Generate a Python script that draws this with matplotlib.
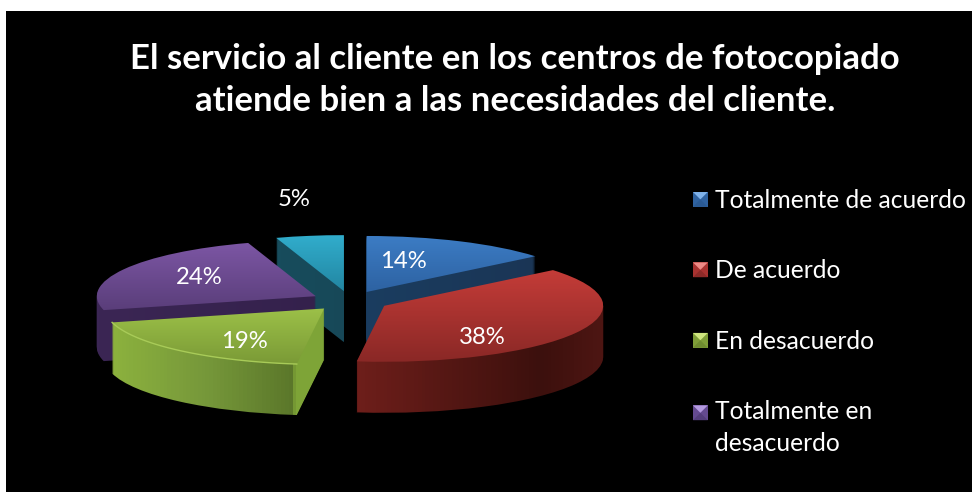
import numpy as np
import matplotlib
matplotlib.use('Agg')
import matplotlib.pyplot as plt
from matplotlib.colors import LinearSegmentedColormap
from matplotlib.legend_handler import HandlerBase
from matplotlib.patches import Patch, Polygon, Rectangle

categories = ['Totalmente de acuerdo', 'De acuerdo', 'En desacuerdo', 'Totalmente en\ndesacuerdo']
values = [14, 38, 19, 24, 5]
title = 'El servicio al cliente en los centros de fotocopiado\natiende bien a las necesidades del cliente.'

W, H = 972, 492
CX, CY = 350, 301      # pie centre in pixels
RX, RY = 219, 56       # pixels per data unit
DEPTH = 51
EXPLODE = 39 / 219

# top face colours, top to bottom
top_colors = [('#3c7cc4', '#2d62a2'), ('#c43c38', '#8a2826'), ('#9cc048', '#7a9a36'),
              ('#7c56a4', '#5a3e7a'), ('#31adcc', '#2286a2')]
# side colours as (x pixel, colour)
side_colors = [
    [(360, '#1a3d60'), (540, '#1a3555')],
    [(350, '#701f1b'), (540, '#3c100d'), (604, '#4e1613')],
    [(108, '#8db23e'), (205, '#76983a'), (292, '#5b772a'), (294, '#7ea437'), (328, '#7ea437')],
    [(98, '#3b2654'), (325, '#34214c')],
    [(280, '#174c5c'), (350, '#174858')],
]
edge_colors = [None, None, '#a8cb58', None, None]
# order the wedges are stacked in, back to front
draw_order = [4, 0, 3, 2, 1]
label_pos = [(403, 262), (482, 337), (244, 341), (199, 277), (294, 199)]
legend_colors = [('#2f62a0', '#7fb2ea', '#2a5a94'), ('#a83230', '#ee8a86', '#8c2a28'),
                 ('#7f9e38', '#cfe67e', '#6f8c30'), ('#644a90', '#b49ae0', '#543e7c')]
# the two-line entry keeps its key beside the first line
legend_lift = [0, 0, 0, 11.3]

plt.rcParams['font.family'] = ['Lato', 'DejaVu Sans']
plt.rcParams['image.composite_image'] = False

fig = plt.figure(figsize=(W / 100, H / 100), dpi=100, facecolor='white')
fig.add_artist(Rectangle((5.5 / W, 0), 1 - 5.5 / W, 1 - 11 / H, transform=fig.transFigure,
                         facecolor='black', edgecolor='none', zorder=-1))
ax = fig.add_axes([0, 0, 1, 1])
ax.patch.set_alpha(0)

xlim = (-CX / RX, (W - CX) / RX)
ylim = ((CY - H) / RY, CY / RY)
explode = [EXPLODE] * len(values)


def make_cmap(stops):
    pts = [(p / W, c) for p, c in stops]
    pts = [(0, stops[0][1])] + pts + [(1, stops[-1][1])]
    return LinearSegmentedColormap.from_list('grad', pts)


def pie_layer(offset):
    wedges, _ = ax.pie(values, explode=explode, startangle=90, counterclock=False,
                       radius=1, center=(0, -offset / RY))
    return wedges


def paint(wedge, img, cmap, zorder):
    wedge.set_visible(False)
    im = ax.imshow(img, cmap=cmap, extent=(*xlim, *ylim), aspect='auto', origin='upper',
                   interpolation='nearest', vmin=0, vmax=1, zorder=zorder)
    im.set_clip_path(wedge)


h_grad = np.linspace(0, 1, W).reshape(1, -1)
side_cmaps = [make_cmap(s) for s in side_colors]

# side walls, drawn bottom up so each wedge looks extruded
for offset in range(DEPTH, 0, -1):
    wedges = pie_layer(offset)
    for order, i in enumerate(draw_order):
        paint(wedges[i], h_grad, side_cmaps[i], order * 10 + 1 + (DEPTH - offset) * 0.01)

# top faces with a soft vertical gradient
wedges = pie_layer(0)
for order, i in enumerate(draw_order):
    w = wedges[i]
    th1, th2 = np.radians(w.theta1), np.radians(w.theta2)
    ang = np.linspace(th1, th2, 60)
    cy_px = CY - w.center[1] * RY
    edge_y = np.r_[cy_px, cy_px - np.sin(ang) * RY]
    y0, y1 = edge_y.min(), edge_y.max()
    v_grad = np.clip((np.arange(H) + 0.5 - y0) / (y1 - y0), 0, 1).reshape(-1, 1)
    cmap = LinearSegmentedColormap.from_list('top', top_colors[i])
    paint(w, v_grad, cmap, order * 10 + 5)
    if edge_colors[i]:
        ax.plot(w.center[0] + np.cos(ang), w.center[1] + np.sin(ang), color=edge_colors[i],
                lw=1, zorder=order * 10 + 6)

ax.set_xlim(xlim)
ax.set_ylim(ylim)
ax.set_aspect('auto')
ax.axis('off')

for v, (px, py) in zip(values, label_pos):
    fig.text(px / W, 1 - py / H, f'{v}%', color='white', fontsize=17.2, ha='center', va='center')

fig.text(515 / W, 1 - 80 / H, title, color='white', fontsize=25, fontweight='bold',
         ha='center', va='center', linespacing=1.38)


class BevelHandler(HandlerBase):
    # small square marker with a light triangle on top, like the bevelled Office legend keys
    def create_artists(self, legend, orig, xd, yd, width, height, fontsize, trans):
        base, light, dark = orig.colors
        s = width
        x0, y0 = -xd, -yd + height / 2 - s / 2 + orig.lift
        x1, y1, mx, my = x0 + s, y0 + s, x0 + s / 2, y0 + s / 2
        parts = [
            Polygon([(x0, y0), (x1, y0), (x1, y1), (x0, y1)], facecolor=base),
            Polygon([(x0, y1), (x1, y1), (mx, my)], facecolor=light),
            Polygon([(x0, y0), (x1, y0), (mx, my)], facecolor=dark),
        ]
        for p in parts:
            p.set_edgecolor('none')
            p.set_transform(trans)
        return parts


handles = []
for c, lift in zip(legend_colors, legend_lift):
    h = Patch(label='x')
    h.colors = c
    h.lift = lift
    handles.append(h)

leg = fig.legend(handles, categories, loc='upper left', bbox_to_anchor=(693 / W, 1 - 189 / H),
                 bbox_transform=fig.transFigure, frameon=False, fontsize=17.7, labelcolor='white',
                 handler_map={Patch: BevelHandler()}, handlelength=0.6, handletextpad=0.29,
                 labelspacing=1.93, borderpad=0, borderaxespad=0)
for t in leg.get_texts():
    t.set_linespacing(1.45)

fig.savefig('out.png', dpi=100, facecolor='white')
